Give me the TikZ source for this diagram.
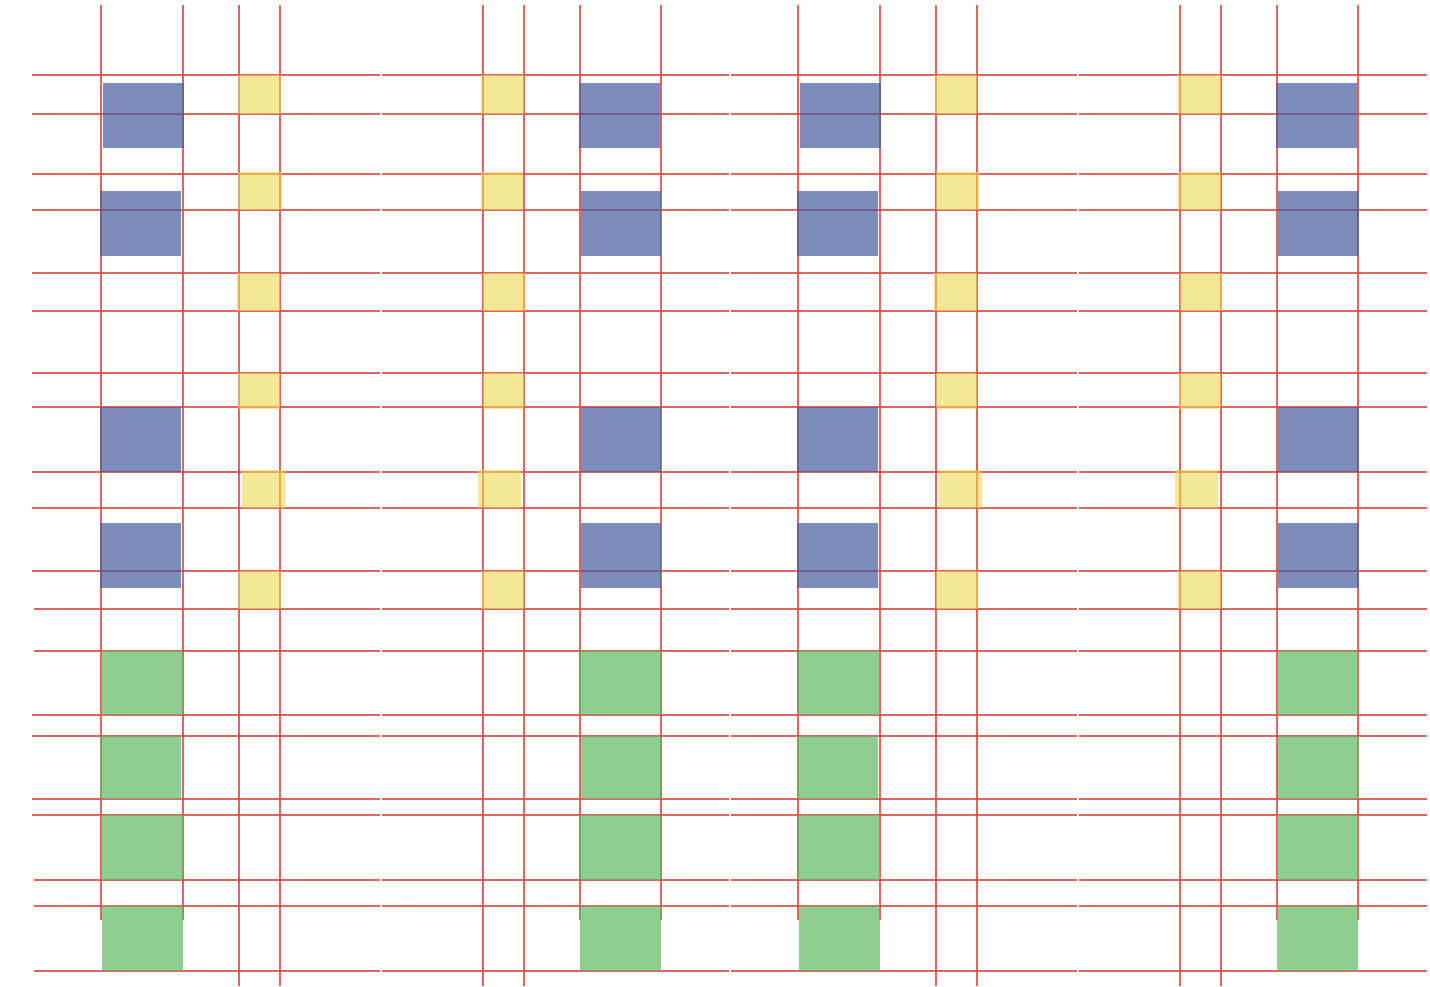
\documentclass[tikz,border=0pt]{standalone}
\definecolor{gridred}{HTML}{DC4A42}
\definecolor{boxblue}{HTML}{455C9E}
\definecolor{boxyellow}{HTML}{F0D752}
\definecolor{boxgreen}{HTML}{5EBA62}
\tikzset{
  gridline/.style={draw=gridred, line width=1.4pt, draw opacity=0.85},
  bluebox/.style={fill=boxblue, fill opacity=0.7},
  yellowbox/.style={fill=boxyellow, fill opacity=0.6},
  greenbox/.style={fill=boxgreen, fill opacity=0.7}
}
\begin{document}
\begin{tikzpicture}[x=1pt,y=-1pt]
\useasboundingbox (0,0) rectangle (1430,986);
% horizontal grid lines, four panels
\foreach \y/\s in {75/32,114/32,174/32,210/32,273/32,311/32,373/32,407/32,472/32,508/32,571/32,609/34,651/34,715/32,736/32,799/32,815/32,880/34,906/34,971/34}{
  \draw[gridline] (\s,\y) -- (380,\y);
  \draw[gridline] (382,\y) -- (729,\y);
  \draw[gridline] (731,\y) -- (1077,\y);
  \draw[gridline] (1079,\y) -- (1427,\y);
}
% vertical grid lines
\foreach \x in {239,280,483,524,936,977,1180,1221}{
  \draw[gridline] (\x,5) -- (\x,986);
}
\foreach \x in {101,183,580,661,798,880,1277,1358}{
  \draw[gridline] (\x,5) -- (\x,920);
}
% blue boxes
\foreach \a/\b/\c/\d in {103/83/184/148, 100/191/181/256, 100/407/181/472, 100/523/181/588,
  579/83/660/148, 581/191/661/256, 581/407/661/472, 581/523/661/588,
  800/83/881/148, 797/191/878/256, 797/407/878/472, 797/523/878/588,
  1276/83/1357/148, 1278/191/1359/256, 1278/407/1359/472, 1278/523/1359/588}{
  \fill[bluebox] (\a,\b) rectangle (\c,\d);
}
% yellow boxes
\foreach \a/\b/\c/\d in {238/75/281/114, 238/172/282/210, 237/273/280/311, 238/373/280/409, 242/470/285/508, 238/571/281/609,
  481/75/524/114, 481/172/523/210, 483/273/525/311, 483/373/524/409, 478/470/521/508, 482/571/524/609,
  935/75/977/114, 936/172/979/210, 934/273/977/311, 936/373/977/409, 939/470/982/508, 936/571/978/609,
  1178/75/1221/114, 1178/172/1221/210, 1180/273/1222/311, 1179/373/1221/409, 1175/470/1218/508, 1178/571/1221/609}{
  \fill[yellowbox] (\a,\b) rectangle (\c,\d);
}
% green boxes
\foreach \a/\b/\c/\d in {101/651/183/715, 100/736/181/799, 101/815/183/880, 102/906/183/971,
  580/651/661/715, 581/736/661/799, 580/815/661/880, 580/906/661/971,
  798/651/880/715, 797/736/878/799, 798/815/880/880, 799/906/880/971,
  1277/651/1358/715, 1278/736/1359/799, 1277/815/1358/880, 1277/906/1358/971}{
  \fill[greenbox] (\a,\b) rectangle (\c,\d);
}
\end{tikzpicture}
\end{document}
